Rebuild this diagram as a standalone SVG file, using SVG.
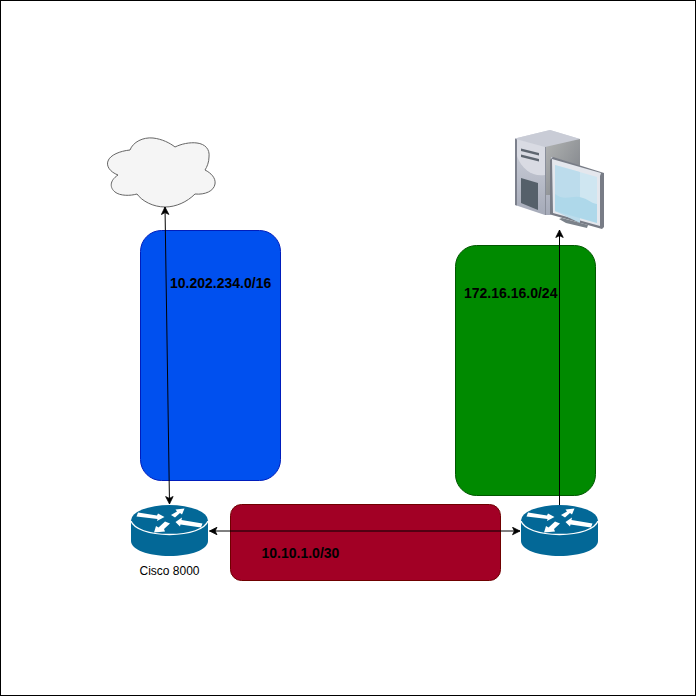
<svg xmlns="http://www.w3.org/2000/svg" width="696" height="696" viewBox="0 0 696 696">
<style>
.lbl{font-family:"Liberation Sans",Arial,sans-serif;font-size:14px;font-weight:bold;fill:#000}
.cap{font-family:"Liberation Sans",Arial,sans-serif;font-size:12px;fill:#000}
.conn{fill:none;stroke:#000;stroke-width:1}
.ra{fill:#fff}
</style>
<defs>
<marker id="ah" viewBox="-1 -1 12 12" refX="10" refY="5" markerWidth="9" markerHeight="9" orient="auto-start-reverse" markerUnits="userSpaceOnUse"><path d="M0 0L10 5L0 10L2.500 5Z" fill="#000" stroke="#000" stroke-width="1"/></marker>
<linearGradient id="tw" x1="0" y1="0" x2="0" y2="1"><stop offset="0" stop-color="#d4d7e0"/><stop offset="1" stop-color="#a5aab8"/></linearGradient>
<linearGradient id="ts" x1="0" y1="0" x2="1" y2="1"><stop offset="0" stop-color="#b2b4b3"/><stop offset="1" stop-color="#7a7e85"/></linearGradient>
<g id="router">
<path d="M0 15.500V36C0 44.500 17 51 38.500 51S77 44.500 77 36V15.500Z" fill="#036897"/>
<ellipse cx="38.500" cy="15.500" rx="38.500" ry="15.500" fill="#036897"/>
<path d="M0 16C3 24 18 29.500 38.500 29.500S74 24 77 16" fill="none" stroke="#fff" stroke-width="1.300"/>
<path class="ra" d="M7 7.500L26 10.500L27 8.500L33.500 12L26 16L26.500 14L5.500 11.500Z"/>
<path class="ra" d="M40 10L46 6.500L44.500 4.500L53.500 3.500L51 9.500L49 8L44 12.500Z"/>
<path class="ra" d="M44.500 17L51 12.500L50.500 15L71.500 18.500L70 22.500L49.500 19.500L49 21.500Z"/>
<path class="ra" d="M34 16.500L39 18.500L33 24L34 26.500L23 27.500L25 21L27.500 22.500Z"/>
</g>
</defs>
<rect x="0.500" y="0.500" width="695" height="695" fill="#fff" stroke="#000"/>
<g id="blue-subnet"><rect x="140.500" y="230.500" width="140" height="250" rx="21" fill="#0050ef" stroke="#001dbc"/></g>
<g id="green-subnet"><rect x="455.500" y="245.500" width="140" height="250" rx="21" fill="#008a00" stroke="#005700"/></g>
<g id="red-link"><rect x="230.500" y="504.500" width="270" height="76" rx="11" fill="#a20025" stroke="#6f0000"/></g>
<g id="cloud"><path d="M130 150C133 142 143 137 153 138C162 139 170 143 175 147C181 144 190 142 197 143C205 144 210 149 209 157C209 162 207 167 205 170C211 173 216 178 215 184C214 191 205 195 195 194C187 202 176 207 165 207C153 207 142 201 137 194C130 196 120 196 115 192C110 188 109 181 118 175C110 172 106 166 108 161C110 155 120 151 130 150Z" fill="#f5f5f5" stroke="#666"/></g>
<g id="computer">
<path d="M515 138.500L550 130L580 139V200L551 215L545 215L515 205Z" fill="url(#tw)"/>
<path d="M515 138.500L550 130L580 139L545 147Z" fill="#c9ccd6"/>
<path d="M515 138.500L517 139.500V205.500L515 205Z" fill="#7c808c"/>
<path d="M545 147L580 139V166L551 157V195H545Z" fill="url(#ts)"/>
<path d="M517 139.500L545 147V175C533 177 522 170 517 156Z" fill="#d9dbe3"/>
<path d="M545 147H546V215H545Z" fill="#8a8f9b"/>
<path d="M521 148.500L539 153V155.500L521 151ZM521 154.500L539 159V161.500L521 157Z" fill="#5e6670"/>
<path d="M521 178L538 183V210L521 203Z" fill="#55606a"/>
<path d="M550 160L553 157L604 173V227L602 229L552 215L550 214Z" fill="#787c86"/>
<path d="M552 159L601 173L600 176V226L553 213Z" fill="#e4e7ed"/>
<path d="M555 165L597 177V223L555 211Z" fill="#cfe6f1"/>
<path d="M555 165L580 172V223L555 211Z" fill="#bcdcec"/>
<path d="M555 194C565 202 573 194 583 198C589 200 593 204 597 204V223L555 211Z" fill="#aed8ea"/>
<path d="M559 219L562 218L588 225L587 228L566 223Z" fill="#7b828a"/>
</g>
<g id="router-a"><use href="#router" x="131" y="505"/><text class="cap" x="169.500" y="575" text-anchor="middle">Cisco 8000</text></g>
<g id="router-b"><use href="#router" x="521" y="505"/></g>
<g id="connectors">
<path class="conn" d="M165 207L169.500 504" marker-start="url(#ah)" marker-end="url(#ah)"/>
<path class="conn" d="M209.500 531H520" marker-start="url(#ah)" marker-end="url(#ah)"/>
<path class="conn" d="M559.500 505V230" marker-end="url(#ah)"/>
</g>
<g id="labels">
<text class="lbl" x="170" y="288">10.202.234.0/16</text>
<text class="lbl" x="464" y="298">172.16.16.0/24</text>
<text class="lbl" x="261.500" y="558">10.10.1.0/30</text>
</g>
</svg>
